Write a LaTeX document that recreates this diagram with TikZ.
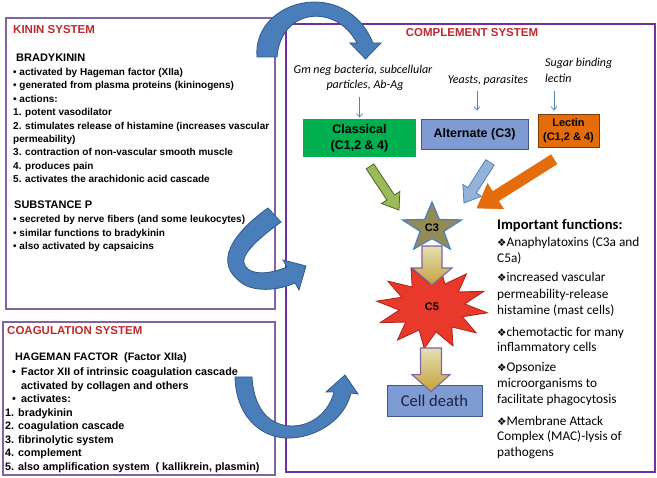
\documentclass[tikz,border=0pt]{standalone}
\usepackage{fontspec}
\setmainfont{Liberation Sans}
\newfontfamily\calibri{Carlito}
\newfontfamily\dejavu{DejaVu Sans}
\usetikzlibrary{calc,arrows.meta}
\definecolor{kinpurple}{HTML}{8064A2}
\definecolor{comppurple}{HTML}{7030A0}
\definecolor{titlered}{HTML}{C0282D}
\definecolor{srcblue}{HTML}{4F81BD}
\definecolor{curveblue}{HTML}{4A7EBB}
\definecolor{curveedge}{HTML}{2F5888}
\definecolor{classgreen}{HTML}{00B050}
\definecolor{altblue}{HTML}{7F9BD3}
\definecolor{boxedge}{HTML}{3C5A8C}
\definecolor{lecorange}{HTML}{E46C0A}
\definecolor{lecedge}{HTML}{7A3A0A}
\definecolor{celltext}{HTML}{1A2440}
\definecolor{c3olive}{HTML}{948A54}
\definecolor{c5red}{HTML}{E8392A}
\definecolor{c5edge}{HTML}{B0201A}
\definecolor{goldtop}{HTML}{E4DFB4}
\definecolor{goldbot}{HTML}{C4A23C}
\definecolor{greenarr}{HTML}{9BBB59}
\definecolor{greenedge}{HTML}{4F6228}
\definecolor{bluearr}{HTML}{95B3D7}
\newcommand{\fdia}{{\dejavu\fontsize{10.5}{12}\selectfont ❖}}
% straight block arrow: style, start, tip, half shaft, half head, head length
\newcommand{\blockarrow}[6]{%
  \coordinate (ba) at ($(#3)!#6!(#2)$);
  \draw[#1] ($(#2)!#4!90:(#3)$) -- ($(ba)!#4!90:(#3)$) -- ($(ba)!#5!90:(#3)$) -- (#3)
    -- ($(ba)!#5!270:(#3)$) -- ($(ba)!#4!270:(#3)$) -- ($(#2)!#4!270:(#3)$) -- cycle;}
\begin{document}
\begin{tikzpicture}[x=1pt,y=-1pt,
    kinbox/.style={draw=kinpurple, line width=1.3pt},
    compbox/.style={draw=comppurple, line width=2.4pt},
    systitle/.style={anchor=base west, inner sep=0pt, text=titlered, font=\bfseries\fontsize{11.5}{13}\selectfont},
    subtitle/.style={anchor=base west, inner sep=0pt, font=\bfseries\fontsize{11}{13}\selectfont},
    kinline/.style={anchor=base west, inner sep=0pt, font=\bfseries\fontsize{10}{12}\selectfont},
    coagline/.style={anchor=base west, inner sep=0pt, font=\bfseries\fontsize{10.8}{13}\selectfont},
    srctext/.style={anchor=base, inner sep=0pt, font=\calibri\itshape\fontsize{12}{14}\selectfont},
    srcarrow/.style={draw=srcblue, line width=0.7pt, -{Straight Barb[length=3.5pt,width=6pt]}},
    pathbox/.style={inner sep=0pt, align=center, line width=0.8pt},
    funcline/.style={anchor=base west, inner sep=0pt, font=\calibri\fontsize{13.3}{15}\selectfont},
    bluecurve/.style={fill=curveblue, draw=curveedge, line width=0.8pt},
    goldarrow/.style={draw=kinpurple, line width=1.1pt, top color=goldtop, bottom color=goldbot}]
\useasboundingbox (0,0) rectangle (657,478);
% the three boxes
\draw[kinbox] (6,18) rectangle (275,309);
\draw[kinbox] (3,322) rectangle (275,475);
\draw[compbox] (286,24) rectangle (655,472);

% kinin system
\node[systitle] (kintitle) at (13,34) {KININ SYSTEM};
\node[subtitle] (brady) at (16,62) {BRADYKININ};
\foreach \t [count=\i from 0] in {• activated by Hageman factor (XIIa),
    • generated from plasma proteins (kininogens), • actions:, 1. potent vasodilator,
    2. stimulates release of histamine (increases vascular, permeability),
    3. contraction of non-vascular smooth muscle, 4. produces pain,
    5. activates the arachidonic acid cascade}
  \node[kinline] (kin\i) at (13,{75.6+13.4*\i}) {\t};
\node[subtitle] (subp) at (14,209) {SUBSTANCE P};
\foreach \t [count=\i from 0] in {• secreted by nerve fibers (and some leukocytes),
    • similar functions to bradykinin, • also activated by capsaicins}
  \node[kinline] (subp\i) at (13,{222.6+13.5*\i}) {\t};

% coagulation system
\node[systitle] (coagtitle) at (7,335) {COAGULATION SYSTEM};
\node[coagline] (hageman) at (15,361) {HAGEMAN FACTOR\ \ (Factor XIIa)};
\node[coagline] (bul1) at (12,376) {•};
\node[coagline] (fac1) at (21,376) {Factor XII of intrinsic coagulation cascade};
\node[coagline] (fac2) at (21,389.5) {activated by collagen and others};
\node[coagline] (bul2) at (12,403) {•};
\node[coagline] (fac3) at (21,403) {activates:};
\foreach \t [count=\i from 0] in {1. bradykinin, 2. coagulation cascade, 3. fibrinolytic system,
    4. complement, {5. also amplification system\ \ ( kallikrein, plasmin)}}
  \node[coagline] (act\i) at (5,{416.5+13.5*\i}) {\t};

% complement system
\node[systitle, anchor=base] (comptitle) at (472,37) {COMPLEMENT SYSTEM};
\node[srctext] (srcClass) at (363,74) {Gm neg bacteria, subcellular};
\node[srctext] (srcClass2) at (365,89) {particles, Ab-Ag};
\node[srctext] (srcAlt) at (488,84) {Yeasts, parasites};
\node[srctext, anchor=base west] (srcLec) at (545,67) {Sugar binding};
\node[srctext, anchor=base west] (srcLec2) at (545,83) {lectin};

\node[pathbox, fill=classgreen, minimum width=113pt, minimum height=38pt,
  font=\bfseries\fontsize{12.5}{16}\selectfont] (classical) at (359.5,138) {Classical\\(C1,2 \& 4)};
\node[pathbox, draw=boxedge, fill=altblue, minimum width=107pt, minimum height=30pt,
  font=\bfseries\fontsize{12.5}{15}\selectfont] (alternate) at (474.5,134) {Alternate (C3)};
\node[pathbox, draw=lecedge, fill=lecorange, minimum width=61pt, minimum height=33pt,
  font=\bfseries\fontsize{11}{14}\selectfont] (lectin) at (568.5,130.5) {Lectin\\(C1,2 \& 4)};

\draw[srcarrow] ($(srcClass2.south -| classical.north)+(0,5.5)$) -- ($(classical.north)+(0,-1)$);
\draw[srcarrow] ($(srcAlt.south -| alternate.north)+(2.5,4.5)$) -- ($(alternate.north)+(2.5,-8)$);
\draw[srcarrow] ($(srcLec2.south -| lectin.north)+(-14.5,8)$) -- ($(lectin.north)+(-14.5,-3)$);

% C3 star and C5 burst
\coordinate (c3pos) at (432,228);
\coordinate (c5pos) at (432,307);
\begin{scope}[shift={(c3pos)}]
  \draw[fill=c3olive, draw=srcblue, line width=1.3pt]
    plot[samples at={0,...,9}] ({cos(-90+36*\x)*ifthenelse(mod(\x,2)==0,31,12.5)},
      {sin(-90+36*\x)*ifthenelse(mod(\x,2)==0,26,10.5)}) -- cycle;
\end{scope}
\begin{scope}[shift={(c5pos)}]
  \draw[fill=c5red, draw=c5edge, line width=0.8pt]
    plot[samples at={0,...,23}] ({cos(8+15*\x)*ifthenelse(mod(\x,2)==0,56,33)},
      {sin(8+15*\x)*ifthenelse(mod(\x,2)==0,42,25)}) -- cycle;
\end{scope}
\node[font=\bfseries\fontsize{11}{13}\selectfont] (c3) at (c3pos) {C3};
\node[font=\bfseries\fontsize{11}{13}\selectfont] (c5) at (c5pos) {C5};

\node[pathbox, draw=boxedge, fill=altblue, minimum width=95pt, minimum height=31pt,
  text=celltext, font=\calibri\fontsize{16.5}{18}\selectfont] (cell) at (434.5,400.5) {Cell death};

% arrows into C3, C5 and cell death
\coordinate (gs) at ($(classical.south)+(10.5,9)$);
\coordinate (gt) at ($(c3)+(-33,-18)$);
\blockarrow{fill=greenarr, draw=greenedge, line width=0.8pt}{gs}{gt}{4.5pt}{11pt}{15pt}
\coordinate (as) at ($(alternate.south)+(15.5,13)$);
\coordinate (at) at ($(c3)+(32,-25)$);
\blockarrow{fill=bluearr, draw=srcblue, line width=0.8pt}{as}{at}{5pt}{11pt}{15pt}
\coordinate (ls) at ($(lectin.south)+(-14.5,12)$);
\coordinate (lt) at ($(c3)+(45,-20)$);
\blockarrow{fill=lecorange, draw=lecorange, line width=0.5pt}{ls}{lt}{5.5pt}{15pt}{22pt}
\coordinate (c3s) at ($(c3)+(0,18)$);
\coordinate (c5n) at ($(c5)+(0,-22)$);
\blockarrow{goldarrow}{c3s}{c5n}{10pt}{20pt}{17pt}
\coordinate (c5s) at ($(c5)+(-1,41)$);
\coordinate (celln) at ($(cell.north)+(-3.5,7)$);
\blockarrow{goldarrow}{c5s}{celln}{10.5pt}{19pt}{17pt}

% important functions
\node[funcline, font=\calibri\bfseries\fontsize{14.6}{16}\selectfont] (functitle) at (497,229.5) {Important functions:};
\foreach \y/\t [count=\i] in {247/\fdia Anaphylatoxins (C3a and, 263/C5a),
    282/\fdia increased vascular, 299/permeability-release, 315/histamine (mast cells),
    337/\fdia chemotactic for many, 352/inflammatory cells,
    372/\fdia Opsonize, 388/microorganisms to, 404/facilitate phagocytosis,
    426/\fdia Membrane Attack, 441/Complex (MAC)-lysis of, 457/pathogens}
  \node[funcline] (func\i) at (497,\y) {\t};

% curved arrows from the side systems
\draw[bluecurve] (257,57) .. controls (252,0) and (345,-25) .. (373,43) -- (381,43) -- (365.5,59)
  -- (350,43) -- (357,43) .. controls (336,3) and (281,8) .. (277,57) -- cycle;
\draw[bluecurve] (268,208) .. controls (240,228) and (212,258) .. (238,280)
  .. controls (252,294) and (280,290) .. (295,283) -- (299,290) -- (306,266) -- (283,260)
  -- (287,267) .. controls (270,274) and (252,276) .. (245,266)
  .. controls (238,255) and (262,236) .. (281,222) -- cycle;
\draw[bluecurve] (235,377) .. controls (236,420) and (265,440) .. (292,438)
  .. controls (320,436) and (345,418) .. (351,393) -- (358,394) -- (345,375) -- (326,392)
  -- (334,392) .. controls (329,412) and (312,426) .. (292,426)
  .. controls (272,426) and (254,412) .. (252,377) -- cycle;
\end{tikzpicture}
\end{document}
